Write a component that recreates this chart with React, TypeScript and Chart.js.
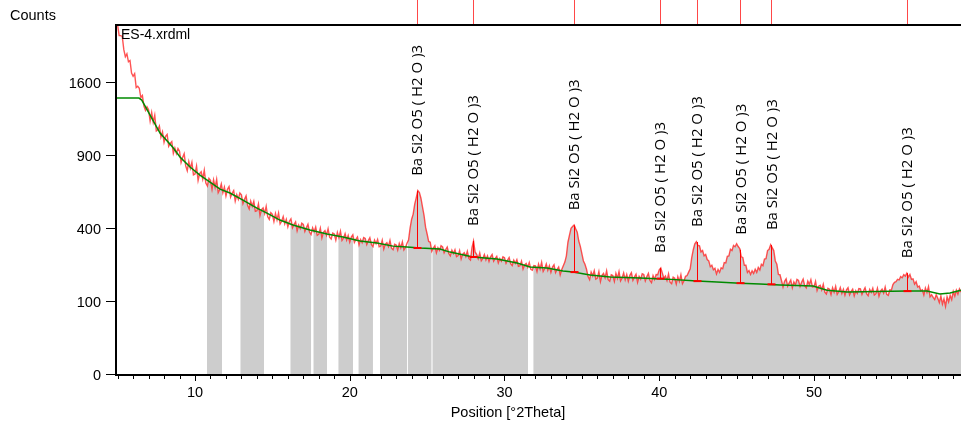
import React, { useEffect, useRef } from "react";
import { Chart, registerables } from "chart.js";

Chart.register(...registerables);

// Measurement grid (°2Theta)
const scanStart = 5.0;
const scanStep = 0.1;

// Observed counts, one value per 0.1° from 5.0 to 59.5
const observedCounts: number[] = [
  2285, 2150, 2150, 2140, 1975, 1890, 1925, 1830, 1845, 1700,
  1664, 1694, 1540, 1554, 1533, 1435, 1456, 1347, 1305, 1340,
  1311, 1202, 1285, 1190, 1258, 1109, 1119, 1154, 1055, 1100,
  1008, 1060, 1077, 973, 998, 1014, 914, 959, 912, 954,
  932, 840, 880, 911, 813, 776, 847, 794, 841, 744,
  751, 811, 703, 754, 768, 714, 779, 684, 664, 719,
  704, 641, 708, 654, 712, 618, 639, 678, 616, 655,
  595, 640, 659, 587, 613, 632, 561, 603, 573, 615,
  603, 545, 573, 596, 534, 512, 561, 529, 560, 497,
  501, 543, 472, 508, 518, 483, 527, 464, 449, 488,
  478, 436, 483, 446, 486, 423, 438, 465, 423, 449,
  407, 438, 452, 402, 420, 434, 385, 416, 397, 427,
  420, 382, 403, 421, 378, 365, 401, 380, 405, 361,
  367, 399, 348, 377, 386, 362, 396, 351, 342, 373,
  368, 337, 376, 349, 383, 335, 347, 370, 337, 360,
  327, 352, 364, 325, 340, 352, 313, 339, 324, 350,
  345, 315, 334, 349, 315, 305, 336, 319, 340, 304,
  308, 336, 293, 317, 324, 305, 335, 297, 290, 316,
  312, 288, 320, 299, 328, 289, 301, 321, 337, 400,
  450, 480, 542, 584, 632, 618, 580, 524, 472, 405,
  368, 330, 326, 283, 298, 309, 276, 299, 287, 309,
  303, 276, 291, 303, 273, 262, 288, 273, 290, 259,
  263, 286, 249, 270, 276, 259, 283, 251, 244, 300,
  332, 280, 269, 250, 275, 241, 251, 268, 245, 262,
  238, 258, 268, 239, 251, 260, 232, 250, 239, 258,
  254, 230, 244, 255, 229, 221, 243, 230, 245, 218,
  220, 239, 207, 223, 229, 214, 233, 206, 202, 221,
  220, 197, 227, 207, 234, 198, 209, 227, 202, 220,
  194, 215, 224, 193, 206, 215, 185, 205, 220, 235,
  262, 326, 362, 398, 408, 417, 396, 378, 332, 306,
  272, 240, 226, 206, 178, 167, 195, 181, 200, 169,
  173, 197, 161, 183, 190, 174, 200, 167, 162, 185,
  182, 161, 190, 172, 197, 163, 173, 192, 167, 186,
  162, 183, 193, 165, 177, 187, 158, 179, 169, 189,
  186, 163, 178, 190, 164, 157, 182, 168, 186, 185,
  204, 211, 191, 172, 180, 164, 188, 158, 153, 176,
  172, 152, 178, 161, 185, 153, 163, 179, 182, 195,
  208, 254, 290, 318, 329, 310, 308, 280, 286, 262,
  268, 246, 240, 216, 222, 204, 210, 188, 205, 194,
  212, 208, 233, 232, 260, 262, 292, 286, 310, 304,
  319, 305, 296, 258, 255, 222, 222, 194, 201, 186,
  200, 190, 206, 194, 213, 203, 226, 220, 248, 250,
  286, 292, 314, 300, 286, 240, 226, 186, 185, 164,
  142, 161, 170, 145, 156, 166, 140, 159, 149, 168,
  164, 144, 158, 169, 146, 139, 162, 151, 167, 142,
  143, 161, 131, 145, 148, 133, 151, 126, 120, 138,
  135, 119, 140, 126, 144, 119, 127, 140, 122, 135,
  117, 133, 140, 118, 128, 135, 115, 130, 122, 137,
  136, 119, 130, 140, 121, 115, 134, 125, 138, 117,
  121, 138, 114, 129, 135, 123, 142, 119, 116, 133,
  132, 150, 158, 160, 168, 166, 178, 174, 185, 180,
  191, 176, 186, 168, 170, 152, 160, 142, 145, 130,
  133, 117, 139, 125, 143, 112, 118, 110, 104, 118,
  108, 96, 114, 92, 106, 86, 112, 98, 116, 104,
  128, 114, 132, 120, 136, 126,
];

// Background (green) points
const backgroundPos: number[] = [
  4.96, 6.38, 6.56, 7.74, 8.55, 9.03, 9.68, 10.32, 10.97, 11.62, 12.26, 13.1,
  14.0, 14.65, 15.49, 16.33, 17.43, 18.53, 19.56, 20.66, 21.76, 22.79, 23.7,
  24.54, 25.83, 26.48, 27.96, 29.52, 30.81, 31.65, 32.75, 33.78, 34.43, 35.53,
  36.82, 38.76, 40.5, 42.44, 43.73, 45.22, 46.51, 47.8, 49.94, 50.84, 52.13,
  56.01, 57.3, 58.14, 58.79, 59.5,
];
const backgroundCounts: number[] = [
  1429, 1429, 1409, 1090, 967, 884, 804, 743, 692, 642, 615, 568,
  517, 486, 445, 417, 389, 368, 352, 332, 322, 307, 303,
  298, 293, 279, 257, 248, 231, 215, 211, 199, 195, 184,
  177, 173, 169, 162, 159, 155, 152, 149, 145, 132, 126,
  129, 129, 120, 123, 132,
];

// Grey filled regions (°2Theta)
const fillStart: number[] = [10.78, 12.94, 16.17, 17.66, 19.27, 20.57, 21.95, 23.76, 25.35, 31.87];
const fillEnd: number[] = [11.74, 14.46, 17.5, 18.53, 20.21, 21.5, 23.7, 25.28, 31.52, 59.6];

// Identified peaks
const peakPos: number[] = [24.36, 27.96, 34.47, 40.05, 42.41, 45.25, 47.24, 55.99];
const peakTop: number[] = [630, 332, 415, 211, 327, 290, 312, 191];
const peakBase: number[] = [298, 257, 195, 171, 162, 155, 151, 129];
const peakLabel = "Ba Si2 O5 ( H2 O )3";

// Axes
const yTickCounts: number[] = [0, 100, 400, 900, 1600];
const xTickLabels: number[] = [10, 20, 30, 40, 50];
const xMin = 4.96;
const xMax = 59.5;
const yMaxCounts = 2300;

const sqrtY = (c: number) => Math.sqrt(Math.max(c, 0));

export default function App() {
  const ref = useRef<HTMLCanvasElement | null>(null);

  useEffect(() => {
    const canvas = ref.current;
    if (!canvas) return;
    const xs = observedCounts.map((_, i) => +(scanStart + i * scanStep).toFixed(2));
    const obsData = observedCounts.map((c, i) => ({ x: xs[i], y: sqrtY(c) }));
    const bgData = backgroundCounts.map((c, i) => ({ x: backgroundPos[i], y: sqrtY(c) }));

    const axisFont = '14.5px "Liberation Sans", Arial, sans-serif';

    const decor = {
      id: "decor",
      beforeDatasetsDraw(chart: any) {
        const { ctx, chartArea, scales } = chart;
        const x = scales.x, y = scales.y;
        const y0 = y.getPixelForValue(0);
        for (let b = 0; b < fillStart.length; b++) {
          const xa = x.getPixelForValue(fillStart[b]);
          const xb = x.getPixelForValue(fillEnd[b]);
          ctx.save();
          ctx.beginPath();
          ctx.rect(xa, chartArea.top, xb - xa, chartArea.bottom - chartArea.top);
          ctx.clip();
          ctx.beginPath();
          ctx.moveTo(x.getPixelForValue(obsData[0].x), y0);
          for (const p of obsData) ctx.lineTo(x.getPixelForValue(p.x), y.getPixelForValue(p.y));
          ctx.lineTo(x.getPixelForValue(obsData[obsData.length - 1].x), y0);
          ctx.closePath();
          ctx.fillStyle = "#cdcdcd";
          ctx.fill();
          ctx.restore();
        }
      },
      afterDatasetsDraw(chart: any) {
        const { ctx, scales } = chart;
        const x = scales.x, y = scales.y;
        ctx.save();
        for (let i = 0; i < peakPos.length; i++) {
          const px = Math.round(x.getPixelForValue(peakPos[i])) + 0.5;
          const pt = y.getPixelForValue(sqrtY(peakTop[i]));
          const pb = y.getPixelForValue(sqrtY(peakBase[i]));
          ctx.strokeStyle = "#ff0000";
          ctx.lineWidth = 1;
          ctx.beginPath();
          ctx.moveTo(px, pt);
          ctx.lineTo(px, pb);
          ctx.stroke();
          ctx.lineWidth = 2;
          ctx.beginPath();
          ctx.moveTo(px - 4, pb);
          ctx.lineTo(px + 4, pb);
          ctx.stroke();
        }
        ctx.restore();
      },
      afterDraw(chart: any) {
        const { ctx, chartArea, scales } = chart;
        const x = scales.x, y = scales.y;
        const L = chartArea.left, T = chartArea.top, B = chartArea.bottom, R = chartArea.right;
        ctx.save();
        // reference lines above the plot
        ctx.strokeStyle = "#ff4848";
        ctx.lineWidth = 1;
        for (const p of peakPos) {
          const px = Math.round(x.getPixelForValue(p)) + 0.5;
          ctx.beginPath();
          ctx.moveTo(px, 0);
          ctx.lineTo(px, T);
          ctx.stroke();
        }
        // frame
        ctx.strokeStyle = "#000";
        ctx.lineWidth = 2;
        ctx.beginPath();
        ctx.moveTo(L - 1, B + 1);
        ctx.lineTo(L - 1, T + 1);
        ctx.lineTo(R, T + 1);
        ctx.moveTo(L - 2, B + 1);
        ctx.lineTo(R, B + 1);
        ctx.stroke();
        // y ticks
        ctx.lineWidth = 1;
        ctx.fillStyle = "#000";
        ctx.font = axisFont;
        ctx.textAlign = "right";
        ctx.textBaseline = "middle";
        for (const v of yTickCounts) {
          const py = Math.round(y.getPixelForValue(sqrtY(v))) + 0.5;
          ctx.beginPath();
          ctx.moveTo(L - 11, py);
          ctx.lineTo(L - 2, py);
          ctx.stroke();
          ctx.fillText(String(v), L - 16, py + 1);
        }
        // x ticks
        ctx.textAlign = "center";
        ctx.textBaseline = "alphabetic";
        for (let v = Math.ceil(xMin); v <= xMax; v++) {
          const px = Math.round(x.getPixelForValue(v)) + 0.5;
          const major = xTickLabels.includes(v);
          ctx.beginPath();
          ctx.moveTo(px, B + 2);
          ctx.lineTo(px, B + (major ? 7 : 5));
          ctx.stroke();
        }
        for (const v of xTickLabels) {
          const px = x.getPixelForValue(v);
          ctx.fillText(String(v), px, B + 23);
        }
        ctx.fillText("Position [°2Theta]", 508, B + 43);
        ctx.textAlign = "left";
        ctx.fillText("Counts", 10, 20);
        ctx.font = '14px "Liberation Sans", Arial, sans-serif';
        ctx.fillText("ES-4.xrdml", L + 4, T + 14.5);
        // peak labels
        ctx.font = '15px "Open Sans", sans-serif';
        ctx.textBaseline = "middle";
        for (let i = 0; i < peakPos.length; i++) {
          const px = x.getPixelForValue(peakPos[i]);
          const pt = y.getPixelForValue(sqrtY(peakTop[i]));
          ctx.save();
          ctx.translate(px + 1, pt - 15);
          ctx.rotate(-Math.PI / 2);
          ctx.fillText(peakLabel, 0, 0);
          ctx.restore();
        }
        ctx.restore();
      },
    };

    const chart = new Chart(canvas, {
      type: "line",
      data: {
        datasets: [
          {
            data: bgData,
            borderColor: "#008a00",
            borderWidth: 1.5,
            pointRadius: 0,
            fill: false,
            order: 1,
          },
          {
            data: obsData,
            borderColor: "rgba(255,40,40,0.8)",
            borderWidth: 1.4,
            pointRadius: 0,
            fill: false,
            order: 2,
          },
        ],
      },
      options: {
        animation: false,
        responsive: false,
        devicePixelRatio: 1,
        layout: { padding: { left: 117, top: 24, right: 0, bottom: 55 } },
        scales: {
          x: { type: "linear", min: xMin, max: xMax, display: false },
          y: { type: "linear", min: 0, max: Math.sqrt(yMaxCounts), display: false },
        },
        plugins: { legend: { display: false }, tooltip: { enabled: false } },
        elements: { line: { tension: 0 } },
      },
      plugins: [decor],
    });
    return () => chart.destroy();
  }, []);

  return (
    <div style={{ position: "fixed", left: 0, top: 0, width: 961, height: 429, background: "#fff" }}>
      <canvas ref={ref} width={961} height={429} style={{ display: "block" }} />
    </div>
  );
}
